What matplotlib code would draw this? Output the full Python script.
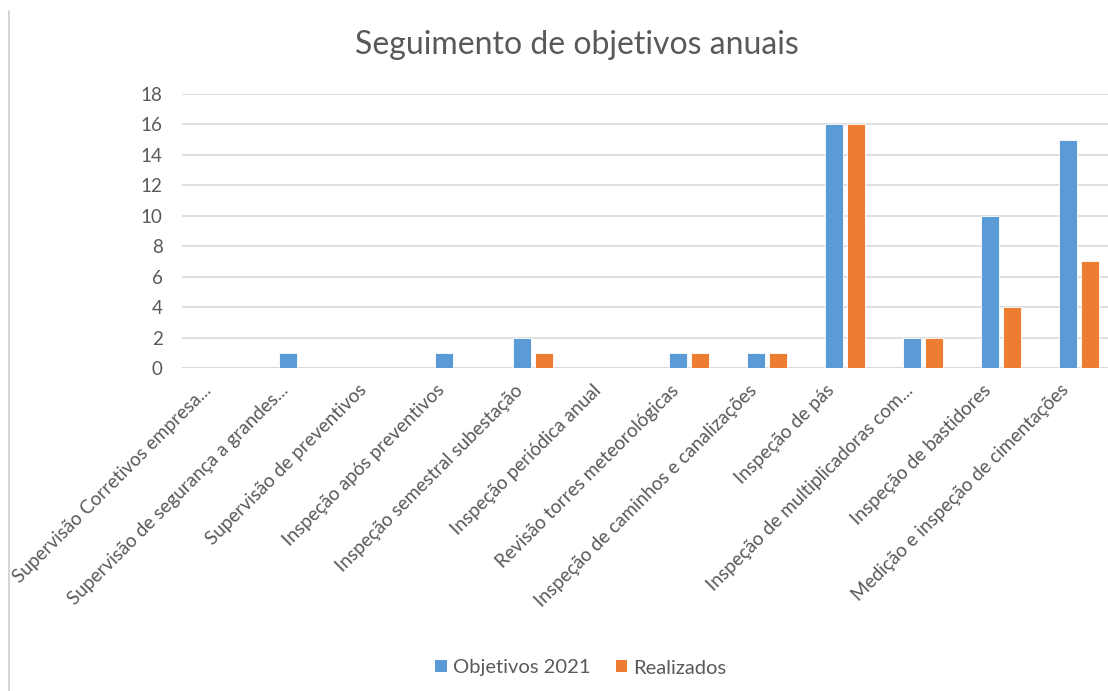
import matplotlib
matplotlib.use("Agg")
import matplotlib.pyplot as plt
from matplotlib.lines import Line2D
from matplotlib.patches import Patch
from matplotlib.transforms import ScaledTranslation
import numpy as np

plt.rcParams['font.family'] = ['Lato', 'DejaVu Sans']

categories = [
    "Supervisão Corretivos empresa...",
    "Supervisão de segurança a grandes...",
    "Supervisão de preventivos",
    "Inspeção após preventivos",
    "Inspeção semestral subestação",
    "Inspeção periódica anual",
    "Revisão torres meteorológicas",
    "Inspeção de caminhos e canalizações",
    "Inspeção de pás",
    "Inspeção de multiplicadoras com...",
    "Inspeção de bastidores",
    "Medição e inspeção de cimentações",
]
objetivos = [0, 1, 0, 1, 2, 0, 1, 1, 16, 2, 10, 15]
realizados = [0, 0, 0, 0, 1, 0, 1, 1, 16, 2, 4, 7]
series_names = ["Objetivos 2021", "Realizados"]
yticks = [0, 2, 4, 6, 8, 10, 12, 14, 16, 18]

BLUE = "#5B9BD5"
ORANGE = "#ED7D31"
TEXT = "#595959"
GRID = "#D9D9D9"

W, H = 1108, 691
fig = plt.figure(figsize=(W / 100, H / 100), dpi=100)

# plot area in pixel coordinates (right edge runs past the canvas)
left_px, right_px, top_px, bottom_px = 182, 1118, 94, 368
ax = fig.add_axes([left_px / W, 1 - bottom_px / H,
                   (right_px - left_px) / W, (bottom_px - top_px) / H])

x = np.arange(len(categories))
bw = 0.235
off = 0.142
ax.bar(x - off, objetivos, bw, color=BLUE, edgecolor="white", linewidth=0.6, zorder=3)
ax.bar(x + off, realizados, bw, color=ORANGE, edgecolor="white", linewidth=0.6, zorder=3)

ax.set_xlim(-0.5, len(categories) - 0.5)
ax.set_ylim(0, 18)
ax.set_yticks(yticks)
ax.set_yticklabels([str(v) for v in yticks], fontsize=13.5, color=TEXT)
ax.yaxis.grid(True, color=GRID, linewidth=1.2, zorder=0)
ax.set_axisbelow(True)
ax.tick_params(axis='y', length=0, pad=14)
ax.tick_params(axis='x', length=0, pad=14)
for s in ax.spines.values():
    s.set_visible(False)
ax.axhline(0, color=GRID, linewidth=1.4, zorder=2)

ax.set_xticks(x)
ax.set_xticklabels(categories, rotation=45, ha='right', va='center',
                   rotation_mode='anchor', fontsize=13.6, color=TEXT)
shift = ScaledTranslation(-13 / 100, 0, fig.dpi_scale_trans)
for lbl in ax.get_xticklabels():
    lbl.set_transform(lbl.get_transform() + shift)

fig.text(577 / W, 1 - 45 / H, "Seguimento de objetivos anuais",
         ha='center', va='center', fontsize=23, color=TEXT)

# chart frame edge on the left
fig.add_artist(Line2D([8.5 / W, 8.5 / W], [0, 1 - 11 / H],
                      transform=fig.transFigure, color="#D0D0D0", linewidth=1.2))

handles = [Patch(facecolor=BLUE, edgecolor='none'),
           Patch(facecolor=ORANGE, edgecolor='none')]
fig.legend(handles, series_names, loc='center', bbox_to_anchor=(581 / W, 1 - 668 / H),
           ncol=2, frameon=False, fontsize=14.5, handlelength=0.55, handleheight=0.55,
           handletextpad=0.3, columnspacing=1.3, labelcolor=TEXT)

fig.savefig("out.png", dpi=100, facecolor="white")
